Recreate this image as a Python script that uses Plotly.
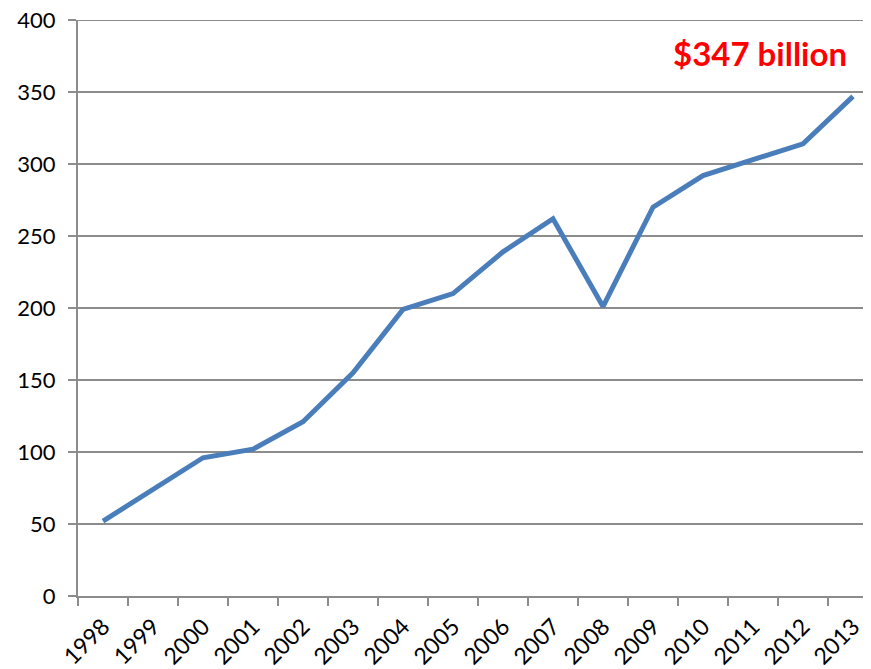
import plotly.graph_objects as go

years = ["1998", "1999", "2000", "2001", "2002", "2003", "2004", "2005",
         "2006", "2007", "2008", "2009", "2010", "2011", "2012", "2013"]
values = [52, 74, 96, 102, 121, 155, 199, 210, 239, 262, 201, 270, 292, 303, 314, 347]
y_ticks = [0, 50, 100, 150, 200, 250, 300, 350, 400]
annotation_text = "$347 billion"

fig = go.Figure()
fig.add_trace(go.Scatter(
    x=years, y=values, mode="lines",
    line=dict(color="#4A7EBB", width=5),
    showlegend=False,
))

# page has an 8px body margin; compensate so plot area lands at (78,20)-(871,596)
W, H = 863, 661
left, right, top, bottom = 70, 0, 12, 73
plot_w = W - left - right

FONT = "Lato, Liberation Sans, sans-serif"
GRID = "#8c8c8c"

fig.update_layout(
    width=W, height=H,
    margin=dict(l=left, r=right, t=top, b=bottom, pad=0),
    paper_bgcolor="white", plot_bgcolor="white",
    font=dict(family=FONT, color="black"),
    xaxis=dict(
        type="category",
        range=[-0.5, 15.36],
        showgrid=False,
        showline=True, linecolor=GRID, linewidth=2,
        ticks="outside", tickson="boundaries", ticklen=8, tickwidth=2,
        tickcolor=GRID,
        tickangle=-45,
        ticklabelstandoff=6,
        ticklabeloverflow="allow",
        tickfont=dict(size=23, family=FONT),
        automargin=False,
        zeroline=False,
    ),
    yaxis=dict(
        range=[0, 400],
        tickvals=y_ticks,
        showgrid=True, gridcolor=GRID, gridwidth=2,
        showline=True, linecolor=GRID, linewidth=2,
        ticks="outside", ticklen=8, tickwidth=2, tickcolor=GRID,
        ticklabelstandoff=8,
        ticklabeloverflow="allow",
        tickfont=dict(size=22, family=FONT),
        automargin=False,
        zeroline=False,
    ),
    shapes=[dict(
        type="line", xref="paper", yref="y",
        x0=-8 / plot_w, x1=1, y0=y_ticks[-1], y1=y_ticks[-1],
        line=dict(color=GRID, width=2), layer="below",
    )],
    annotations=[dict(
        text="<b>" + annotation_text + "</b>",
        xref="paper", yref="paper",
        x=0.86, y=0.943,
        xanchor="center", yanchor="middle",
        showarrow=False,
        font=dict(size=33, color="#FF0000", family=FONT),
    )],
)

fig.write_html("out.html")
